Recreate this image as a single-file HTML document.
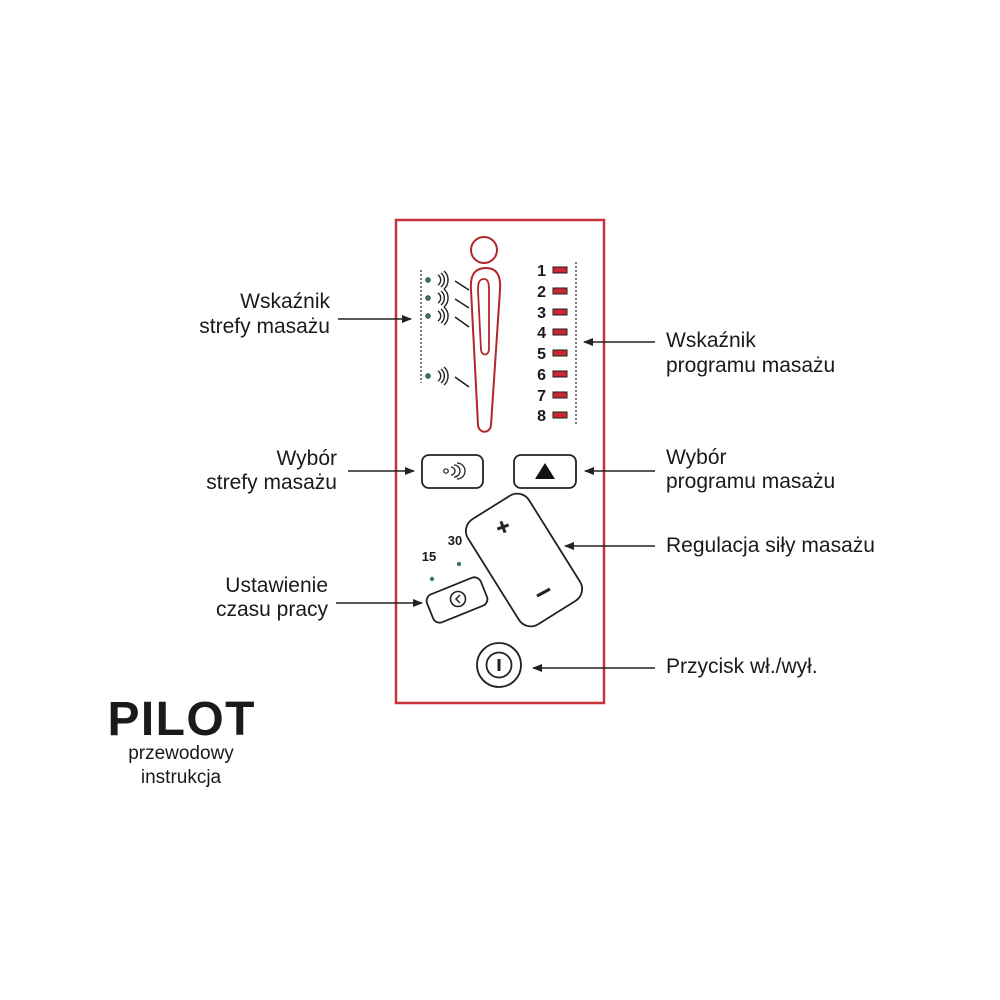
<!DOCTYPE html>
<html><head><meta charset="utf-8"><style>
html,body{margin:0;padding:0;background:#fff;}
svg{display:block}
text{font-family:"Liberation Sans",sans-serif;fill:#1a1a1a}
</style></head><body>
<svg width="1000" height="1000" viewBox="0 0 1000 1000" xmlns="http://www.w3.org/2000/svg">
<defs>
<marker id="ah" markerWidth="10" markerHeight="8" refX="9" refY="4" orient="auto" markerUnits="userSpaceOnUse">
<path d="M0,0 L10,4 L0,8 Z" fill="#222"/></marker>
</defs>
<rect x="0" y="0" width="1000" height="1000" fill="#fff"/>
<rect x="396" y="220" width="208" height="483" fill="none" stroke="#c8323a" stroke-width="2.5"/>
<circle cx="484" cy="250" r="13" fill="none" stroke="#b3262c" stroke-width="2"/>
<path d="M486,268 C474,268 470,276 471,290 L478,425 C479,434 490,434 491,425 L500,290 C501,276 497,268 486,268 Z" fill="none" stroke="#b3262c" stroke-width="2"/>
<path d="M484,279 C479,279 478,283 478,290 L481,350 C482,356 488,356 489,350 L489,290 C489,283 488,279 484,279 Z" fill="none" stroke="#b3262c" stroke-width="1.8"/>
<path d="M421,270 L421,383" stroke="#333" stroke-width="1.3" stroke-dasharray="2,2" fill="none"/>
<g fill="#3d7a5a" stroke="#1e3a2a" stroke-width="0.8">
<circle cx="428" cy="280" r="2.3"/><circle cx="428" cy="298" r="2.3"/><circle cx="428" cy="316" r="2.3"/><circle cx="428" cy="376" r="2.3"/></g>
<g fill="none" stroke="#222" stroke-width="1.4">
<path d="M438,275 a6,6 0 0 1 0,10 M441,273 a9,9 0 0 1 0,14 M444,271 a12,12 0 0 1 0,18"/>
<path d="M438,293 a6,6 0 0 1 0,10 M441,291 a9,9 0 0 1 0,14 M444,289 a12,12 0 0 1 0,18"/>
<path d="M438,311 a6,6 0 0 1 0,10 M441,309 a9,9 0 0 1 0,14 M444,307 a12,12 0 0 1 0,18"/>
<path d="M438,371 a6,6 0 0 1 0,10 M441,369 a9,9 0 0 1 0,14 M444,367 a12,12 0 0 1 0,18"/>
</g>
<g stroke="#222" stroke-width="1.6">
<line x1="455" y1="281" x2="469" y2="290"/><line x1="455" y1="299" x2="469" y2="308"/><line x1="455" y1="317" x2="469" y2="327"/><line x1="455" y1="377" x2="469" y2="387"/></g>
<g font-weight="bold" font-size="16" text-anchor="end">
<text x="546" y="276">1</text><text x="546" y="297">2</text><text x="546" y="318">3</text><text x="546" y="338">4</text><text x="546" y="359">5</text><text x="546" y="380">6</text><text x="546" y="401">7</text><text x="546" y="421">8</text></g>
<g fill="#c8282e" stroke="#222" stroke-width="1">
<rect x="553" y="267" width="14" height="6"/><rect x="553" y="288" width="14" height="6"/><rect x="553" y="309" width="14" height="6"/><rect x="553" y="329" width="14" height="6"/><rect x="553" y="350" width="14" height="6"/><rect x="553" y="371" width="14" height="6"/><rect x="553" y="392" width="14" height="6"/><rect x="553" y="412" width="14" height="6"/></g>
<path d="M576,262 L576,424" stroke="#333" stroke-width="1.3" stroke-dasharray="2,2"/>
<rect x="422" y="455" width="61" height="33" rx="7" fill="none" stroke="#222" stroke-width="1.8"/>
<circle cx="446" cy="471" r="2.2" fill="none" stroke="#222" stroke-width="1.2"/>
<path d="M451,467 a4,4 0 0 1 0,8 M454,465 a6,6 0 0 1 0,12 M457,463 a8,8 0 0 1 0,16" fill="none" stroke="#222" stroke-width="1.3"/>
<rect x="514" y="455" width="62" height="33" rx="7" fill="none" stroke="#222" stroke-width="1.8"/>
<path d="M545,463 L555,479 L535,479 Z" fill="#111"/>
<rect x="-36" y="-62" width="72" height="124" rx="14" transform="translate(524,560) rotate(-32)" fill="none" stroke="#222" stroke-width="1.8"/>
<path d="M497,527 L509,527 M503,521 L503,533" stroke="#222" stroke-width="3" transform="rotate(-20 503 527)"/>
<path d="M537,596 L550,589" stroke="#222" stroke-width="3"/>
<text x="429" y="561" font-weight="bold" font-size="13" text-anchor="middle">15</text>
<text x="455" y="545" font-weight="bold" font-size="13" text-anchor="middle">30</text>
<circle cx="432" cy="579" r="2.2" fill="#3d7a5a"/><circle cx="459" cy="564" r="2.2" fill="#3d7a5a"/>
<rect x="-29" y="-15" width="58" height="30" rx="7" transform="translate(457,600) rotate(-22)" fill="none" stroke="#222" stroke-width="1.8"/>
<circle cx="458" cy="599" r="7.5" fill="none" stroke="#222" stroke-width="1.6"/>
<path d="M460,595 L456,599 L460,603" fill="none" stroke="#222" stroke-width="1.5"/>
<circle cx="499" cy="665" r="22" fill="none" stroke="#222" stroke-width="1.8"/>
<circle cx="499" cy="665" r="12.5" fill="none" stroke="#222" stroke-width="1.8"/>
<line x1="499" y1="659" x2="499" y2="671" stroke="#222" stroke-width="3"/>
<g stroke="#222" stroke-width="1.4" marker-end="url(#ah)">
<line x1="338" y1="319" x2="411" y2="319"/>
<line x1="655" y1="342" x2="584" y2="342"/>
<line x1="348" y1="471" x2="414" y2="471"/>
<line x1="655" y1="471" x2="585" y2="471"/>
<line x1="655" y1="546" x2="565" y2="546"/>
<line x1="336" y1="603" x2="422" y2="603"/>
<line x1="655" y1="668" x2="533" y2="668"/>
</g>
<g font-size="21">
<text x="330" y="308" text-anchor="end">Wskaźnik</text>
<text x="330" y="333" text-anchor="end">strefy masażu</text>
<text x="666" y="347">Wskaźnik</text>
<text x="666" y="372">programu masażu</text>
<text x="337" y="465" text-anchor="end">Wybór</text>
<text x="337" y="489" text-anchor="end">strefy masażu</text>
<text x="666" y="464">Wybór</text>
<text x="666" y="488">programu masażu</text>
<text x="666" y="552">Regulacja siły masażu</text>
<text x="328" y="592" text-anchor="end">Ustawienie</text>
<text x="328" y="616" text-anchor="end">czasu pracy</text>
<text x="666" y="673">Przycisk wł./wył.</text>
</g>
<text x="181" y="735" font-size="48" font-weight="bold" text-anchor="middle" textLength="147">PILOT</text>
<text x="181" y="759" font-size="19" text-anchor="middle">przewodowy</text>
<text x="181" y="783" font-size="19" text-anchor="middle">instrukcja</text>
</svg>
</body></html>
